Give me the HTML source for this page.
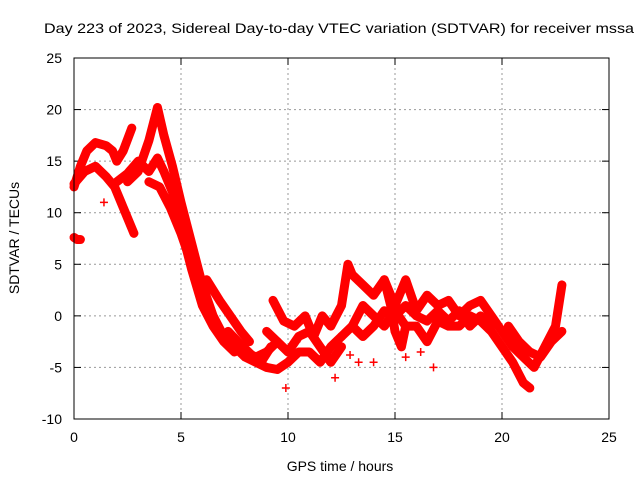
<!DOCTYPE html>
<html><head><meta charset="utf-8"><style>
body{margin:0;background:#fff}
svg{display:block;font-family:"Liberation Sans",sans-serif}
</style></head><body>
<svg id="chart" width="640" height="480" viewBox="0 0 640 480">
<text x="339" y="33" font-size="14" text-anchor="middle" textLength="590" lengthAdjust="spacingAndGlyphs">Day 223 of 2023, Sidereal Day-to-day VTEC variation (SDTVAR) for receiver mssa</text>
<g id="grid"></g>
<g id="ticks"></g>
<g id="marks"></g>
<rect x="74" y="58" width="535" height="361" fill="none" stroke="#000" stroke-width="1"/>
<text x="340" y="471" font-size="14" text-anchor="middle">GPS time / hours</text>
<text transform="translate(19,238) rotate(-90)" font-size="14" text-anchor="middle">SDTVAR / TECUs</text>
</svg>
<script>
const xTicks=[0,5,10,15,20,25];
const yTicks=[-10,-5,0,5,10,15,20,25];
const track1=[[0,12.5],[0.3,14.5],[0.6,16],[1,16.8],[1.5,16.5],[1.8,16],[2.0,15]];
const track2=[[0,12.8],[0.5,14],[1,14.5],[1.5,13.5],[1.9,12.5],[2.2,11],[2.5,9.5],[2.8,8]];
const track3=[[2,15],[2.3,16],[2.7,18.2]];
const track4=[[2,13],[2.5,13.8],[3,15],[3.5,14],[3.9,15.3],[4.2,14],[4.6,12],[5,8.5],[5.5,4.5],[6,1],[6.5,-1],[7,-2.5],[7.5,-3.5]];
const track5=[[2.5,13],[3,14],[3.5,17],[3.9,20.2],[4.2,17.5],[4.6,14.5],[5,11],[5.5,7],[6,3],[6.5,0],[7,-2],[7.5,-3],[8,-4],[8.5,-4.5],[9,-5],[9.5,-5.2],[10,-4.5],[10.5,-3.5],[11,-3.5],[11.5,-4.5],[12,-3],[12.5,-2]];
const track6=[[3.5,13],[4,12.5],[4.5,10.5],[5,8],[5.5,5],[6,2],[6.5,-0.5],[7,-2],[7.5,-3],[8,-3.5],[8.5,-4],[9,-3.5],[9.5,-2.5]];
const track7=[[6.2,3.5],[6.8,1.5],[7.3,0],[7.8,-1.5],[8.2,-2.5]];
const track8=[[9,-1.5],[9.5,-2.5],[10,-3.5],[10.5,-2],[11,-1.5],[11.5,-3],[12,-4.5],[12.5,-3]];
const track9=[[7.2,-1.5],[7.8,-2.8],[8.3,-3.8],[8.8,-4.3],[9.2,-3]];
const track10=[[9.3,1.5],[9.8,-0.5],[10.3,-1],[10.8,0],[11.2,-2],[11.6,0],[12,-1],[12.5,1],[12.8,5],[13,4],[13.5,3],[14,2],[14.5,3.5],[15,1],[15.5,3.5],[16,0.5],[16.5,2],[17,1],[17.5,1.5],[18,0],[18.5,1],[19,1.5],[19.5,0],[20,-1.5],[20.5,-3],[21,-4],[21.5,-5],[22,-3],[22.5,-1],[22.8,3]];
const track11=[[12.5,-2],[13,-1],[13.5,1],[14,0],[14.5,-1],[15,0.5],[15.5,-1],[16,-1],[16.5,-2.5],[17,-0.5],[17.5,-1],[18,-1],[18.5,0],[19,-0.5],[19.5,-1.5],[20,-3],[20.5,-4.5],[21,-6.5],[21.3,-7]];
const track12=[[20.3,-1],[20.8,-2.5],[21.3,-3.5],[21.8,-4],[22.3,-2.5],[22.8,-1.5]];
const track13=[[14.5,3.5],[14.8,1],[15,-1.5],[15.3,-3],[15.5,-1]];
const track14=[[0,7.6],[0.15,7.4],[0.3,7.4]];
const track15=[[13,-1],[13.5,-2],[14,-1],[14.5,0.5],[15,0],[15.5,1],[16,0],[16.5,-0.5],[17,0.5],[17.5,-0.5],[18,0.5],[18.5,-1],[19,0],[19.5,-1]];
const scattered=[[1.4,11],[9.9,-7],[12.2,-6],[16.8,-5],[14,-4.5],[15.5,-4],[16.2,-3.5],[12.9,-3.8],[10.4,-2.5],[11.7,-4],[13.3,-4.5]];
const tracks=[track1,track2,track3,track4,track5,track6,track7,track8,track9,track10,track11,track12,track13,track14,track15];

const X=v=>74+(v-0)*(535/25);
const Y=v=>419-(v+10)*(361/35);
const NS='http://www.w3.org/2000/svg';
const grid=document.getElementById('grid'),ticks=document.getElementById('ticks'),marks=document.getElementById('marks');
function mk(tag,attrs,parent){const e=document.createElementNS(NS,tag);for(const k in attrs)e.setAttribute(k,attrs[k]);parent.appendChild(e);return e;}
xTicks.forEach(t=>{
  if(t>0&&t<25){const g=mk('line',{x1:X(t),x2:X(t),y1:58,y2:419,stroke:'#999','stroke-dasharray':'2,3'},grid);
  
  }
  mk('line',{x1:X(t),x2:X(t),y1:419,y2:412,stroke:'#000'},ticks);
  mk('line',{x1:X(t),x2:X(t),y1:58,y2:65,stroke:'#000'},ticks);
  const l=mk('text',{x:X(t),y:442,'font-size':14,'text-anchor':'middle'},ticks);l.textContent=t;
  
  
});
yTicks.forEach(t=>{
  if(t>-10&&t<25){const g=mk('line',{x1:74,x2:609,y1:Y(t),y2:Y(t),stroke:'#999','stroke-dasharray':'2,3'},grid);
  
  }
  mk('line',{x1:74,x2:81,y1:Y(t),y2:Y(t),stroke:'#000'},ticks);
  mk('line',{x1:609,x2:602,y1:Y(t),y2:Y(t),stroke:'#000'},ticks);
  const l=mk('text',{x:62,y:Y(t)+5,'font-size':14,'text-anchor':'end'},ticks);l.textContent=t;
  
  
});
function plus(p){
  const x=X(p[0]),y=Y(p[1]);
  const e=mk('path',{d:`M${x-4},${y}h8M${x},${y-4}v8`,stroke:'#f00','stroke-width':1.5},marks);
  
  
}
tracks.forEach(tr=>{
  const pl=mk('polyline',{points:tr.map(p=>X(p[0])+','+Y(p[1])).join(' '),fill:'none',stroke:'#f00','stroke-width':9,'stroke-linejoin':'round','stroke-linecap':'round'},marks);
  
  
  tr.forEach(plus);
});
scattered.forEach(plus);
</script>
</body></html>
